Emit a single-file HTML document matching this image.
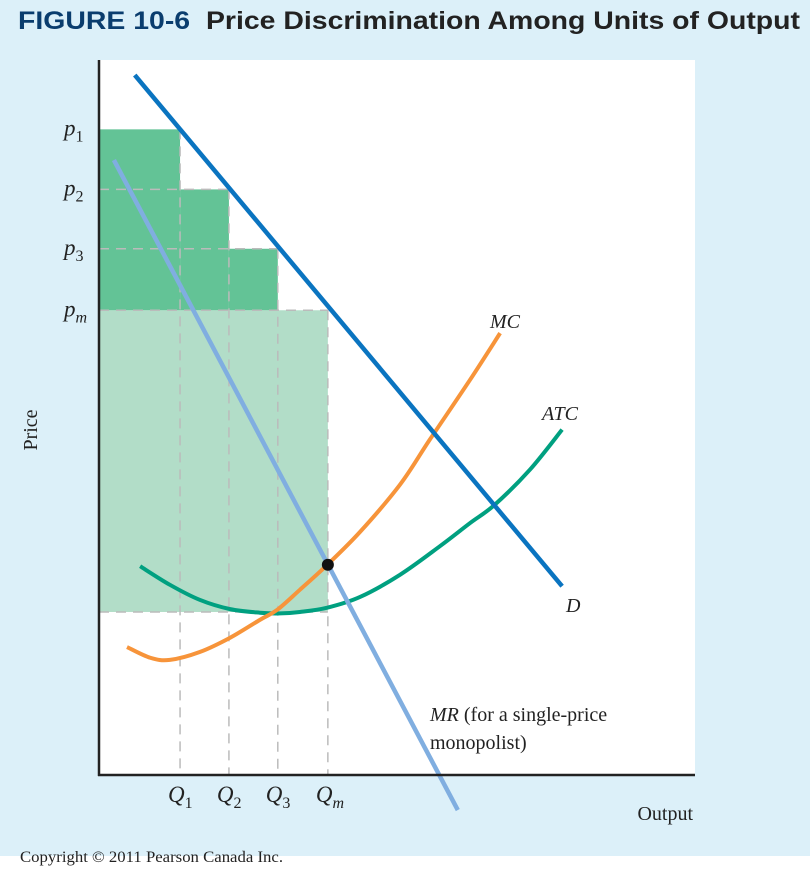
<!DOCTYPE html>
<html><head><meta charset="utf-8"><style>
body{margin:0;width:810px;height:870px;overflow:hidden;background:#fff}
svg{display:block}
.lab{font-family:"Liberation Serif",serif;font-style:italic;fill:#222}
</style></head><body>
<svg id="chart" width="810" height="870">
<rect x="0" y="0" width="810" height="856" fill="#dcf0f9"/>
<rect x="99" y="60" width="596" height="715" fill="#fff"/>
<text x="18" y="29" font-family="Liberation Sans,sans-serif" font-weight="bold" font-size="25" textLength="782" lengthAdjust="spacingAndGlyphs"><tspan fill="#0a3d6e">FIGURE 10-6</tspan><tspan fill="#222" dx="14">Price Discrimination Among Units of Output</tspan></text>
<g id="shades"></g>
<g id="dashes"></g>
<g id="curves"></g>
<line x1="99" y1="60" x2="99" y2="776" stroke="#222" stroke-width="2.5"/>
<line x1="98" y1="775" x2="695" y2="775" stroke="#222" stroke-width="2.5"/>
<g id="labels"></g>
<text x="0" y="0" transform="translate(37,430) rotate(-90)" text-anchor="middle" font-family="Liberation Serif,serif" font-size="20" fill="#222">Price</text>
<text x="693" y="820" text-anchor="end" font-family="Liberation Serif,serif" font-size="20" fill="#222">Output</text>
<text x="490" y="328" class="lab" font-size="20">MC</text>
<text x="542" y="420" class="lab" font-size="20">ATC</text>
<text x="566" y="612" class="lab" font-size="20">D</text>
<text x="430" y="721" font-size="20" font-family="Liberation Serif,serif" fill="#222"><tspan font-style="italic">MR</tspan> (for a single-price</text>
<text x="430" y="749" font-size="20" font-family="Liberation Serif,serif" fill="#222">monopolist)</text>
<text x="20" y="862" font-size="15.5" font-family="Liberation Serif,serif" fill="#222" textLength="263" lengthAdjust="spacingAndGlyphs">Copyright © 2011 Pearson Canada Inc.</text>
</svg>
<script>
const qLabels=["1","2","3","m"];
const qValues=[13.6,21.8,30.0,38.4];
const pLabels=["1","2","3","m"];
const pValues=[90.3,81.9,73.6,65.0];
const atcMinLevel=22.8;
const demandPts=[[6.0,97.9],[77.7,26.4]];
const mrPts=[[2.5,86.0],[60.2,-4.9]];
const mcPts=[[4.7,17.9],[8.6,16.4],[11.9,16.1],[16.9,17.2],[22.0,19.2],[27.0,21.7],[29.9,23.1],[33.7,25.9],[38.3,29.4],[43.8,34.0],[50.5,40.6],[55.5,46.9],[62.2,55.2],[67.3,61.8]];
const atcPts=[[6.9,29.2],[11.9,26.6],[16.9,24.5],[22.0,23.2],[27.0,22.7],[30.4,22.6],[33.7,22.8],[38.3,23.4],[43.8,24.9],[50.5,28.0],[57.2,32.0],[62.2,35.2],[66.4,37.8],[72.3,42.7],[77.7,48.3]];
const equilibrium=[38.4,29.4];

const X=v=>99+v*5.96, Y=v=>775-v*7.15;
const NS="http://www.w3.org/2000/svg";
function mk(tag,parent,attrs){const e=document.createElementNS(NS,tag);for(const k in attrs)e.setAttribute(k,attrs[k]);document.getElementById(parent).appendChild(e);return e;}
function smooth(pts){const p=pts.map(d=>[X(d[0]),Y(d[1])]);let s="M"+p[0][0]+","+p[0][1];
for(let i=0;i<p.length-1;i++){const p0=p[Math.max(0,i-1)],p1=p[i],p2=p[i+1],p3=p[Math.min(p.length-1,i+2)];
s+=" C"+(p1[0]+(p2[0]-p0[0])/6)+","+(p1[1]+(p2[1]-p0[1])/6)+" "+(p2[0]-(p3[0]-p1[0])/6)+","+(p2[1]-(p3[1]-p1[1])/6)+" "+p2[0]+","+p2[1];}return s;}

let r=mk('rect','shades',{x:X(0),y:Y(pValues[3]),width:X(qValues[3])-X(0),height:Y(atcMinLevel)-Y(pValues[3]),fill:'#b2ddc8'});


for(let i=0;i<3;i++){
 const x0=i===0?0:qValues[i-1];
 const e=mk('rect','shades',{x:X(x0),y:Y(pValues[i]),width:X(qValues[i])-X(x0),height:Y(pValues[3])-Y(pValues[i]),fill:'#63c396'});
 
 
}
const ds={stroke:'#bbb','stroke-width':1.5,'stroke-dasharray':'10,7',fill:'none'};
for(let i=1;i<4;i++){
 const e=mk('line','dashes',Object.assign({x1:X(0),y1:Y(pValues[i]),x2:X(qValues[i]),y2:Y(pValues[i])},ds));
 
 
}
mk('line','dashes',Object.assign({x1:X(0),y1:Y(atcMinLevel),x2:X(qValues[3]),y2:Y(atcMinLevel)},ds));
for(let i=0;i<4;i++){
 const e=mk('line','dashes',Object.assign({x1:X(qValues[i]),y1:Y(pValues[i]),x2:X(qValues[i]),y2:775},ds));
 
 
}
let c;
c=mk('path','curves',{d:smooth(atcPts),stroke:'#00a080','stroke-width':4,fill:'none'});


c=mk('path','curves',{d:smooth(mcPts),stroke:'#f7943a','stroke-width':4,fill:'none'});


c=mk('line','curves',{x1:X(demandPts[0][0]),y1:Y(demandPts[0][1]),x2:X(demandPts[1][0]),y2:Y(demandPts[1][1]),stroke:'#0a74c0','stroke-width':4.5});


c=mk('line','curves',{x1:X(mrPts[0][0]),y1:Y(mrPts[0][1]),x2:X(mrPts[1][0]),y2:Y(mrPts[1][1]),stroke:'#80aee0','stroke-width':4.5});


c=mk('circle','curves',{cx:X(equilibrium[0]),cy:Y(equilibrium[1]),r:6,fill:'#111'});


for(let i=0;i<4;i++){
 const t=mk('text','labels',{x:X(qValues[i])-12,y:802,'font-size':23,class:'lab'});
 t.textContent='Q';
 const s=document.createElementNS(NS,'tspan');s.setAttribute('font-size',16);s.setAttribute('dy',6);
 s.setAttribute('font-style',qLabels[i]==='m'?'italic':'normal');
 s.textContent=qLabels[i];t.appendChild(s);
 
 
}
for(let i=0;i<4;i++){
 const t=mk('text','labels',{x:64,y:Y(pValues[i])+6,'font-size':23,class:'lab'});
 t.textContent='p';
 const s=document.createElementNS(NS,'tspan');s.setAttribute('font-size',16);s.setAttribute('dy',6);
 s.setAttribute('font-style',pLabels[i]==='m'?'italic':'normal');
 s.textContent=pLabels[i];t.appendChild(s);
 
 
}
</script>
</body></html>
